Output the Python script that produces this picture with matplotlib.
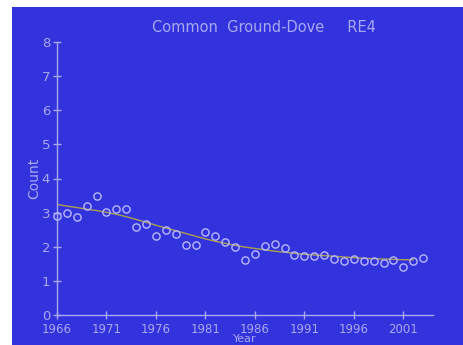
import matplotlib
matplotlib.use("Agg")
import matplotlib.pyplot as plt

# observed counts per year
years = list(range(1966, 2004))
counts = [2.90, 2.98, 2.87, 3.19, 3.49, 3.02, 3.10, 3.10, 2.59, 2.68,
          2.31, 2.48, 2.38, 2.04, 2.06, 2.43, 2.31, 2.15, 1.99, 1.62,
          1.79, 2.03, 2.09, 1.97, 1.75, 1.74, 1.74, 1.77, 1.63, 1.59,
          1.65, 1.57, 1.59, 1.52, 1.60, 1.40, 1.59, 1.68]

# smoothed trend
trend_years = list(range(1966, 2003))
trend = [3.24, 3.19, 3.15, 3.10, 3.06, 3.01, 2.95, 2.88, 2.80, 2.72,
         2.63, 2.55, 2.47, 2.39, 2.31, 2.23, 2.16, 2.10, 2.04, 1.99,
         1.95, 1.91, 1.87, 1.84, 1.81, 1.78, 1.76, 1.74, 1.72, 1.70,
         1.68, 1.66, 1.65, 1.64, 1.63, 1.62, 1.62]

xticks = [1966, 1971, 1976, 1981, 1986, 1991, 1996, 2001]
yticks = list(range(0, 9))

bg = '#3333dd'
fg = '#a8a8f0'

fig = plt.figure(figsize=(4.63, 3.45), dpi=100, facecolor='white')

# blue panel behind everything
bg_ax = fig.add_axes([12 / 463, 0, 1 - 12 / 463, 1 - 7 / 345], zorder=0)
bg_ax.set_facecolor(bg)
bg_ax.set_xticks([])
bg_ax.set_yticks([])
for s in bg_ax.spines.values():
    s.set_visible(False)

ax = fig.add_axes([57 / 463, 1 - 315 / 345, (433 - 57) / 463, (315 - 42) / 345], zorder=1)
ax.set_facecolor('none')

ax.plot(trend_years, trend, color='#a8a050', linewidth=1.0, zorder=2)
ax.plot(years, counts, linestyle='none', marker='o', markersize=5.2,
        markerfacecolor='none', markeredgecolor='#b8b8ff', markeredgewidth=1.0,
        zorder=3, clip_on=False)

ax.set_xlim(1966, 2004)
ax.set_ylim(0, 8)
ax.set_xticks(xticks)
ax.set_yticks(yticks)

for s in ['top', 'right']:
    ax.spines[s].set_visible(False)
for s in ['left', 'bottom']:
    ax.spines[s].set_color(fg)
    ax.spines[s].set_linewidth(1.0)

ax.tick_params(colors=fg, direction='inout', length=6, width=1, labelsize=9.5)
ax.tick_params(axis='x', pad=3, labelsize=8.5)
ax.tick_params(axis='y', pad=2)

ax.set_xlabel('Year', color=fg, fontsize=8, labelpad=-2)
ax.set_ylabel('Count', color=fg, fontsize=10, labelpad=0)

fig.text(264 / 463, 1 - 28 / 345, 'Common  Ground-Dove     RE4', color=fg,
         fontsize=10.5, ha='center', va='center', zorder=2)

fig.savefig('out.png', dpi=100, facecolor='white')
